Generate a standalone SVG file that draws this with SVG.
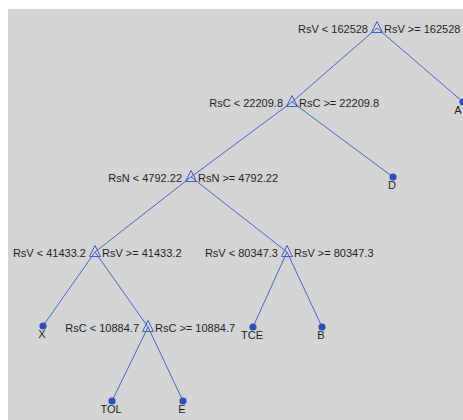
<svg xmlns="http://www.w3.org/2000/svg" width="463" height="420" viewBox="0 0 463 420">
  <style>
    .edge { stroke: #4a63c4; stroke-width: 1; fill: none; }
    .split { stroke: #3f5cc8; stroke-width: 1; fill: none; }
    .leaf { fill: #2f4fb8; }
    text { font-family: "Liberation Sans", Arial, sans-serif; font-size: 11px; fill: #1e1e1e; }
    .l { text-anchor: end; }
    .r { text-anchor: start; }
    .c { text-anchor: middle; }
  </style>
  <defs>
    <!-- unfilled triangle marker used for every split node, centred on the node point -->
    <path id="tri" class="split" d="M0,-6.5 L-5.5,4.5 L5.5,4.5 Z"/>
    <circle id="dot" class="leaf" r="3.6"/>
  </defs>

  <rect x="0" y="0" width="463" height="420" fill="#ffffff"/>
  <rect x="8" y="9" width="455" height="411" fill="#d4d4d4"/>

  <g id="connectors">
    <line class="edge" x1="377" y1="28" x2="292" y2="102"/>
    <line class="edge" x1="377" y1="28" x2="463" y2="102"/>
    <line class="edge" x1="292" y1="102" x2="191" y2="177"/>
    <line class="edge" x1="292" y1="102" x2="393" y2="177"/>
    <line class="edge" x1="191" y1="177" x2="95" y2="252"/>
    <line class="edge" x1="191" y1="177" x2="287" y2="252"/>
    <line class="edge" x1="95" y1="252" x2="43" y2="326"/>
    <line class="edge" x1="95" y1="252" x2="148" y2="327"/>
    <line class="edge" x1="287" y1="252" x2="253" y2="327"/>
    <line class="edge" x1="287" y1="252" x2="322" y2="327"/>
    <line class="edge" x1="148" y1="327" x2="112" y2="401"/>
    <line class="edge" x1="148" y1="327" x2="183" y2="401"/>
  </g>

  <g id="n-root">
    <use href="#tri" x="377" y="28"/>
    <text class="l" x="368" y="33">RsV &lt; 162528</text>
    <text class="r" x="384" y="33">RsV &gt;= 162528</text>
  </g>
  <g id="n-rsc1">
    <use href="#tri" x="292" y="102"/>
    <text class="l" x="283" y="107">RsC &lt; 22209.8</text>
    <text class="r" x="299" y="107">RsC &gt;= 22209.8</text>
  </g>
  <g id="n-rsn">
    <use href="#tri" x="191" y="177"/>
    <text class="l" x="182" y="182">RsN &lt; 4792.22</text>
    <text class="r" x="198" y="182">RsN &gt;= 4792.22</text>
  </g>
  <g id="n-rsv2">
    <use href="#tri" x="95" y="252"/>
    <text class="l" x="86" y="257">RsV &lt; 41433.2</text>
    <text class="r" x="102" y="257">RsV &gt;= 41433.2</text>
  </g>
  <g id="n-rsv3">
    <use href="#tri" x="287" y="252"/>
    <text class="l" x="278" y="257">RsV &lt; 80347.3</text>
    <text class="r" x="294" y="257">RsV &gt;= 80347.3</text>
  </g>
  <g id="n-rsc2">
    <use href="#tri" x="148" y="327"/>
    <text class="l" x="139" y="332">RsC &lt; 10884.7</text>
    <text class="r" x="155" y="332">RsC &gt;= 10884.7</text>
  </g>

  <g id="leaf-a">
    <use href="#dot" x="463" y="102"/>
    <text class="c" x="458" y="114">A</text>
  </g>
  <g id="leaf-d">
    <use href="#dot" x="393" y="177"/>
    <text class="c" x="392" y="189">D</text>
  </g>
  <g id="leaf-x">
    <use href="#dot" x="43" y="326"/>
    <text class="c" x="42" y="338">X</text>
  </g>
  <g id="leaf-tce">
    <use href="#dot" x="253" y="327"/>
    <text class="c" x="252" y="339">TCE</text>
  </g>
  <g id="leaf-b">
    <use href="#dot" x="322" y="327"/>
    <text class="c" x="321" y="339">B</text>
  </g>
  <g id="leaf-tol">
    <use href="#dot" x="112" y="401"/>
    <text class="c" x="111" y="413">TOL</text>
  </g>
  <g id="leaf-e">
    <use href="#dot" x="183" y="401"/>
    <text class="c" x="182" y="413">E</text>
  </g>
</svg>
